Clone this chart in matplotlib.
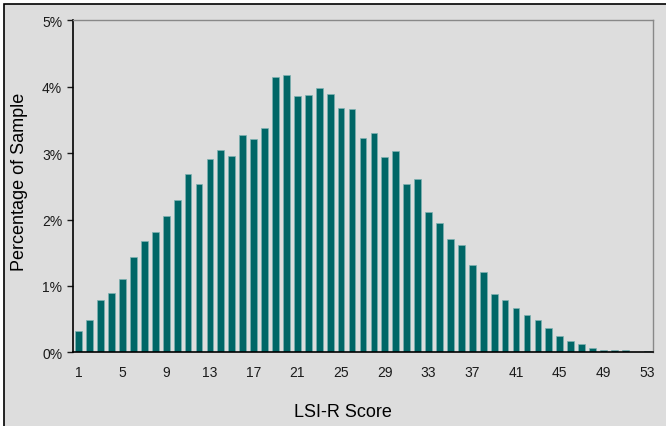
import matplotlib
matplotlib.use('Agg')
import matplotlib.pyplot as plt
from matplotlib.patches import Rectangle

plt.rcParams['font.family'] = ['Liberation Sans', 'DejaVu Sans']

# LSI-R scores 1..53 and share of sample (%)
scores = list(range(1, 54))
pct = [0.32, 0.48, 0.79, 0.89, 1.10, 1.44, 1.68, 1.81, 2.05, 2.29,
       2.68, 2.54, 2.91, 3.05, 2.95, 3.27, 3.21, 3.38, 4.14, 4.17,
       3.86, 3.87, 3.98, 3.89, 3.68, 3.66, 3.23, 3.30, 2.94, 3.03,
       2.54, 2.61, 2.12, 1.95, 1.71, 1.61, 1.32, 1.21, 0.88, 0.79,
       0.67, 0.56, 0.49, 0.37, 0.25, 0.17, 0.12, 0.07, 0.03, 0.035,
       0.03, 0.0, 0.02]
xtick_labels = [str(s) for s in scores[::4]]
ytick_values = [0, 1, 2, 3, 4, 5]

bg = '#dddddd'
fig = plt.figure(figsize=(6.66, 4.27), dpi=100, facecolor='white')
# outer frame of the chart area
fig.patches.append(Rectangle((4 / 666, -0.1), 1.2, (427 - 5) / 427 + 0.1,
                             transform=fig.transFigure, facecolor=bg,
                             edgecolor='black', linewidth=1.2, zorder=-1))

ax = fig.add_axes([0.110, 0.1726, 0.870, 0.7774])
ax.set_zorder(1)
ax.set_facecolor(bg)
ax.bar(scores, pct, width=0.62, color='#006666', edgecolor='#7fb2b2',
       linewidth=0.5, zorder=2)

ax.set_xlim(0.5, 53.5)
ax.set_ylim(0, 5)
ax.set_xticks(scores[::4])
ax.set_xticklabels(xtick_labels)
ax.set_yticks(ytick_values)
ax.set_yticklabels([f'{v}%' for v in ytick_values])
ax.tick_params(axis='x', length=0, pad=9, labelsize=10, colors='#1a1a1a')
ax.tick_params(axis='y', length=4, width=1, direction='out', pad=4,
               labelsize=10, colors='#1a1a1a')

for s in ['left', 'bottom']:
    ax.spines[s].set_color('black')
    ax.spines[s].set_linewidth(1.2)
for s in ['top', 'right']:
    ax.spines[s].set_color('#888888')
    ax.spines[s].set_linewidth(1.0)

ax.set_xlabel('LSI-R Score', fontsize=13, va='center')
ax.xaxis.set_label_coords(0.4655, -0.177)
ax.set_ylabel('Percentage of Sample', fontsize=13, va='center')
ax.yaxis.set_label_coords(-0.092, 0.516)

fig.savefig('out.png', dpi=100, facecolor=fig.get_facecolor())
